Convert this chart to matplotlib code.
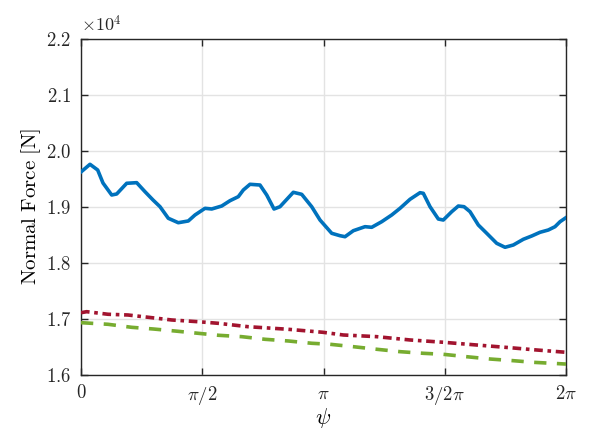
import matplotlib
matplotlib.use('Agg')
import matplotlib.pyplot as plt
import numpy as np

plt.rcParams['mathtext.fontset'] = 'cm'
plt.rcParams['font.family'] = 'serif'
plt.rcParams['font.serif'] = ['DejaVu Serif']

# angle in multiples of pi, force in N
psi_total = [0, 0.0371, 0.0689, 0.0907, 0.1266, 0.1472, 0.1885, 0.2297, 0.2639, 0.2969,
             0.3258, 0.3600, 0.4012, 0.4425, 0.4701, 0.5113, 0.5390, 0.5802, 0.6144, 0.6487,
             0.6693, 0.6969, 0.7381, 0.7658, 0.7959, 0.8206, 0.8755, 0.9101, 0.9513, 0.9856,
             1.0338, 1.0680, 1.0887, 1.1229, 1.1711, 1.1988, 1.2400, 1.2812, 1.3155, 1.3567,
             1.3979, 1.4115, 1.4392, 1.4734, 1.4940, 1.5287, 1.5559, 1.5794, 1.6041, 1.6384,
             1.6730, 1.7142, 1.7485, 1.7827, 1.8239, 1.8586, 1.8928, 1.9270, 1.9546, 1.9753,
             1.9959, 2.0]
f_total = [19620, 19757, 19655, 19423, 19209, 19227, 19418, 19429, 19268, 19120,
           19000, 18793, 18714, 18745, 18852, 18971, 18959, 19012, 19107, 19179,
           19298, 19400, 19387, 19209, 18959, 19000, 19257, 19221, 19000, 18762,
           18525, 18482, 18464, 18571, 18643, 18632, 18732, 18852, 18971, 19132,
           19250, 19239, 19000, 18780, 18762, 18911, 19012, 19000, 18911, 18673,
           18525, 18346, 18275, 18316, 18418, 18477, 18543, 18584, 18643, 18732,
           18793, 18805]

psi_red = [0, 0.0235, 0.1113, 0.1938, 0.2915, 0.3740, 0.4837, 0.5649, 0.6887, 0.8536,
           0.9979, 1.0816, 1.2194, 1.3567, 1.4940, 1.6318, 1.7691, 1.8792, 2.0]
f_red = [17107, 17125, 17079, 17066, 17018, 16977, 16946, 16918, 16857, 16811,
         16757, 16709, 16679, 16620, 16579, 16530, 16482, 16441, 16400]

psi_green = [0, 0.1113, 0.2091, 0.2981, 0.3876, 0.4837, 0.5662, 0.6627, 0.7588, 0.8548,
             0.9513, 1.0268, 1.1229, 1.2194, 1.3155, 1.4115, 1.4940, 1.5905, 1.6866, 1.7827,
             1.8652, 2.0]
f_green = [16929, 16900, 16846, 16816, 16780, 16739, 16704, 16679, 16632, 16602,
           16561, 16543, 16500, 16454, 16411, 16382, 16364, 16321, 16280, 16250,
           16221, 16190]

xtick_vals = [0, 0.5, 1, 1.5, 2]
xtick_labels = [r'$0$', r'$\pi/2$', r'$\pi$', r'$3/2\pi$', r'$2\pi$']
ytick_vals = [1.6, 1.7, 1.8, 1.9, 2.0, 2.1, 2.2]

fig = plt.figure(figsize=(5.89, 4.29), dpi=100)
ax = fig.add_axes([0.1375, 0.1266, 0.8235, 0.7832])

ax.plot(np.array(psi_total) * np.pi, f_total, color='#0072BD', lw=2.6,
        solid_joinstyle='round', zorder=3)
ax.plot(np.array(psi_red) * np.pi, f_red, color='#A2142F', lw=2.6,
        dashes=(2.4, 1.3, 1.0, 1.3), zorder=3)
ax.plot(np.array(psi_green) * np.pi, f_green, color='#77AC30', lw=2.6,
        dashes=(3.4, 2.9), zorder=3)

ax.set_xlim(0, 2 * np.pi)
ax.set_ylim(16000, 22000)
ax.set_xticks(np.array(xtick_vals) * np.pi)
ax.set_xticklabels(xtick_labels)
ax.set_yticks(np.array(ytick_vals) * 1e4)
ax.set_yticklabels([r'$%.1f$' % v for v in ytick_vals])

ax.grid(True, color='#e3e3e3', lw=1.0, zorder=0)
ax.set_axisbelow(True)
for s in ax.spines.values():
    s.set_color('#262626')
    s.set_linewidth(1.0)
ax.tick_params(direction='in', length=5, width=1.0, colors='#262626',
               top=True, right=True, labelsize=13.5, pad=7)

ax.set_xlabel(r'$\psi$', fontsize=16, labelpad=-1)
ax.set_ylabel(r'$\mathrm{Normal\ Force\ [N]}$', fontsize=15, labelpad=2)
ax.text(0.0, 1.01, r'$\times10^{4}$', transform=ax.transAxes, fontsize=13,
        ha='left', va='bottom', color='#262626')

fig.savefig('out.png', dpi=100)
